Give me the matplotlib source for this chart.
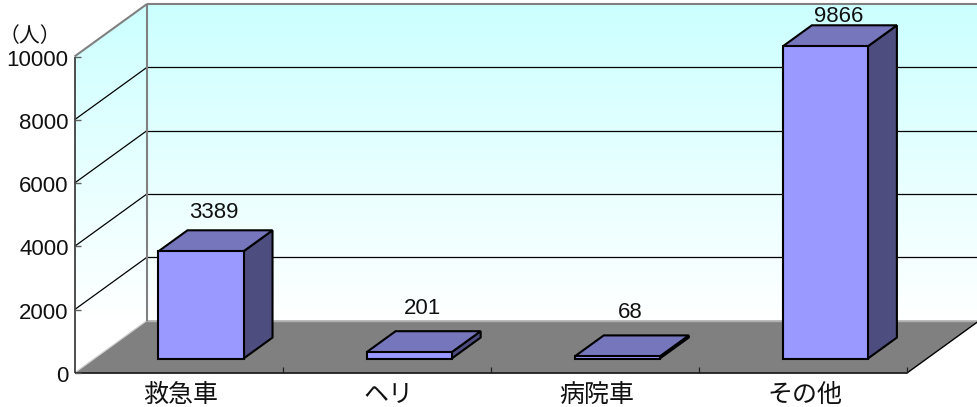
"""3D-style bar chart of patient transport counts, drawn by projecting onto pixel space."""
import numpy as np
import matplotlib
matplotlib.use("Agg")
import matplotlib.pyplot as plt
from matplotlib.patches import Polygon

categories = ["救急車", "ヘリ", "病院車", "その他"]
values = [3389, 201, 68, 9866]
y_ticks = [0, 2000, 4000, 6000, 8000, 10000]
unit_label = "（人）"

W, H = 978, 407
Y_MAX = 10000

# front plane corners and depth vector of the box, in pixels
X0, X1 = 74.5, 907
Y0, Y_TOP = 373, 56.5
DX, DY = 72.5, -52.5

BAR_WIDTH = 85 / 208
BAR_D0, BAR_D1 = 0.275, 0.675

WALL_TOP = "#ccffff"
FLOOR = "#808080"
FRONT = "#9999ff"
TOP = "#7676bc"
SIDE = "#4d4d80"
DIGITS = ["Liberation Sans"]

plt.rcParams["font.family"] = ["Noto Sans CJK JP", "DejaVu Sans"]


def proj(cat, value, depth):
    """cat in category units, value in people, depth 0 (front) to 1 (back)."""
    x = X0 + cat * (X1 - X0) / len(categories) + depth * DX
    y = Y0 + value / Y_MAX * (Y_TOP - Y0) + depth * DY
    return x, y


def line(ax, p, q, color="black", lw=0.9, z=2):
    ax.plot([p[0], q[0]], [p[1], q[1]], color=color, lw=lw, zorder=z,
            solid_capstyle="butt")


def gradient_wall(ax, corners, y_top, y_bot):
    # solid wall colour above y_top, fading to white at y_bot
    grad = np.clip((np.arange(H) - y_top) / (y_bot - y_top), 0, 1)[:, None, None]
    c0 = np.array(matplotlib.colors.to_rgb(WALL_TOP))
    img = c0 + (1 - c0) * grad
    im = ax.imshow(img, extent=(0, W, H, 0), aspect="auto", zorder=1)
    im.set_clip_path(Polygon(corners, closed=True, transform=ax.transData))


def draw_bar(ax, i, v):
    c = i + 0.5 + 2.5 / 208
    l, r = c - BAR_WIDTH / 2, c + BAR_WIDTH / 2
    style = dict(edgecolor="black", lw=1.5, joinstyle="miter", zorder=4)
    ax.add_patch(Polygon([proj(r, 0, BAR_D0), proj(r, 0, BAR_D1),
                          proj(r, v, BAR_D1), proj(r, v, BAR_D0)],
                         facecolor=SIDE, **style))
    ax.add_patch(Polygon([proj(l, v, BAR_D0), proj(r, v, BAR_D0),
                          proj(r, v, BAR_D1), proj(l, v, BAR_D1)],
                         facecolor=TOP, **style))
    ax.add_patch(Polygon([proj(l, 0, BAR_D0), proj(r, 0, BAR_D0),
                          proj(r, v, BAR_D0), proj(l, v, BAR_D0)],
                         facecolor=FRONT, **style))


n = len(categories)
fig = plt.figure(figsize=(W / 100, H / 100), dpi=100)
ax = fig.add_axes([0, 0, 1, 1])

# walls
gradient_wall(ax, [proj(0, 0, 1), proj(n, 0, 1), proj(n, Y_MAX, 1), proj(0, Y_MAX, 1)],
              proj(0, Y_MAX, 1)[1], proj(0, 0, 1)[1])
gradient_wall(ax, [proj(0, 0, 0), proj(0, 0, 1), proj(0, Y_MAX, 1), proj(0, Y_MAX, 0)],
              proj(0, Y_MAX, 1)[1], proj(0, 0, 1)[1])
ax.set_xlim(0, W)
ax.set_ylim(H, 0)
ax.axis("off")

# gridlines
for t in y_ticks[1:-1]:
    line(ax, proj(0, t, 0), proj(0, t, 1))
    line(ax, proj(0, t, 1), proj(n, t, 1))

# floor
ax.add_patch(Polygon([proj(0, 0, 0), proj(n, 0, 0), proj(n, 0, 1), proj(0, 0, 1)],
                     facecolor=FLOOR, edgecolor="none", zorder=2))
line(ax, proj(0, 0, 0), proj(0, 0, 1), color="#d0d0d0", lw=0.9, z=3)
line(ax, proj(0, 0, 1), proj(n, 0, 1), color="#b0b0b0", lw=1.0, z=3)
line(ax, proj(n, 0, 0), proj(n, 0, 1), color="black", lw=1.0, z=3)

# wall outline
line(ax, proj(0, 0, 1), proj(0, Y_MAX, 1), color="#808080", lw=1.5, z=3)
line(ax, proj(0, Y_MAX, 1), proj(n, Y_MAX, 1), color="#808080", lw=1.5, z=3)
line(ax, proj(0, Y_MAX, 0), proj(0, Y_MAX, 1), color="#808080", lw=1.5, z=3)

# axes and ticks
line(ax, proj(0, 0, 0), proj(0, Y_MAX, 0), color="#404040", lw=1.3, z=3)
line(ax, proj(0, 0, 0), proj(n, 0, 0), color="#202020", lw=1.3, z=3)
for t in y_ticks:
    x, y = proj(0, t, 0)
    line(ax, (x, y), (x + 6, y), color="#606060", lw=1.0, z=3)
    ax.text(x - 6, y + 3.5, str(t), ha="right", va="center", fontsize=16,
            color="#111111", family=DIGITS)
for i in range(1, n + 1):
    x, y = proj(i, 0, 0)
    line(ax, (x, y), (x, y - 6), color="#202020", lw=0.9, z=3)

for i, name in enumerate(categories):
    x, y = proj(i + 0.5, 0, 0)
    ax.text(x + 2, y + 22, name, ha="center", va="center", fontsize=18, color="#111111")

# bars do not overlap, so drawing order between them does not matter
for i, v in enumerate(values):
    draw_bar(ax, i, v)
    x, _ = proj(i + 0.5, 0, 0)
    ax.text(x + 35.5, 315 - 0.0303 * v, str(v), ha="center", va="center",
            fontsize=16, color="#111111", family=DIGITS, zorder=5)

ax.text(30, 36, unit_label, ha="center", va="center", fontsize=15, color="#111111", zorder=5)

fig.savefig("out.png", dpi=100)
